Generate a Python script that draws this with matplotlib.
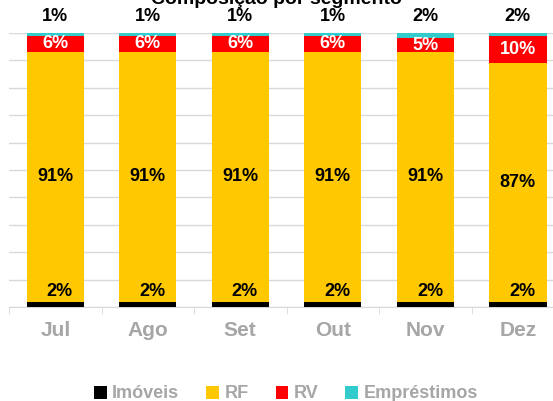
import matplotlib.pyplot as plt
import numpy as np

plt.rcParams["font.family"] = ["Liberation Sans", "DejaVu Sans"]

meses = ["Jul", "Ago", "Set", "Out", "Nov", "Dez"]
imoveis = [2, 2, 2, 2, 2, 2]
rf = [91, 91, 91, 91, 91, 87]
rv = [6, 6, 6, 6, 5, 10]
emprestimos = [1, 1, 1, 1, 2, 2]

cores = {"Imóveis": "#000000", "RF": "#FFC800", "RV": "#FF0000", "Empréstimos": "#33CCCC"}
cinza = "#A6A6A6"

fig = plt.figure(figsize=(5.53, 4.01), dpi=100)
ax = fig.add_axes([9 / 553, 94 / 401, 1 - 9 / 553, 274 / 401])

x = np.arange(len(meses))
w = 0.62
base = np.zeros(len(meses))
series = [("Imóveis", imoveis), ("RF", rf), ("RV", rv), ("Empréstimos", emprestimos)]
for nome, vals in series:
    vals = np.array(vals, dtype=float)
    ax.bar(x, vals, w, bottom=base, color=cores[nome], label=nome, zorder=3)
    for i, v in enumerate(vals):
        txt = f"{v:.0f}%"
        if nome == "Imóveis":
            ax.annotate(txt, (x[i] + 0.05, base[i] + v), xytext=(0, 1), textcoords="offset points",
                        ha="center", va="bottom", fontsize=13, fontweight="bold", color="black", zorder=4)
        elif nome == "RF":
            ax.text(x[i], base[i] + v / 2, txt, ha="center", va="center",
                    fontsize=13, fontweight="bold", color="black", zorder=4)
        elif nome == "RV":
            ax.text(x[i], base[i] + v / 2, txt, ha="center", va="center",
                    fontsize=13, fontweight="bold", color="white", zorder=4)
        else:
            ax.annotate(txt, (x[i], 100), xytext=(0, 6), textcoords="offset points",
                        ha="center", va="bottom", fontsize=13, fontweight="bold",
                        color="black", zorder=4, annotation_clip=False)
    base = base + vals

ax.set_ylim(0, 100)
ax.set_xlim(-0.5, 5.38)
ax.set_yticks(np.arange(0, 101, 10))
ax.yaxis.grid(True, color="#D9D9D9", lw=1, zorder=0)
ax.tick_params(axis="y", left=False, labelleft=False)
for s in ["left", "right", "top"]:
    ax.spines[s].set_visible(False)
ax.spines["bottom"].set_color("#D9D9D9")
ax.set_xticks(x)
ax.set_xticklabels(meses, fontsize=15, fontweight="bold", color=cinza)
ax.set_xticks(np.arange(-0.5, 5.5, 1), minor=True)
ax.tick_params(axis="x", which="major", length=0, pad=10)
ax.tick_params(axis="x", which="minor", length=5, color="#D9D9D9")

fig.text(0.5, 1.0, "Composição por segmento", ha="center", va="center",
         fontsize=14, fontweight="bold")

fig.legend(loc="center", bbox_to_anchor=(286 / 553, 1 - 394 / 401), ncol=4, frameon=False,
           handlelength=0.7, handleheight=0.7, handletextpad=0.3, columnspacing=1.5,
           prop={"size": 13, "weight": "bold"}, labelcolor=cinza)

fig.savefig("out.png", dpi=100)
